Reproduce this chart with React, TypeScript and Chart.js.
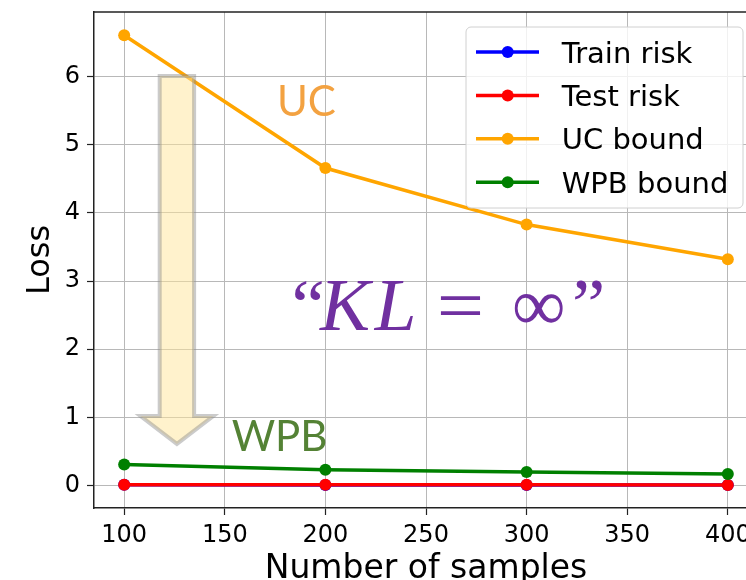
import React, { useEffect, useRef } from "react";
import { Chart, registerables } from "chart.js";
Chart.register(...registerables);

const samples = [100, 200, 300, 400];
const trainRisk = [0.01, 0.009, 0.008, 0.007];
const testRisk = [0.012, 0.01, 0.01, 0.008];
const ucBound = [6.61, 4.66, 3.83, 3.32];
const wpbBound = [0.31, 0.23, 0.2, 0.17];
const xTicks = [100, 150, 200, 250, 300, 350, 400];
const yTicks = [0, 1, 2, 3, 4, 5, 6];
const seriesLabels = ["Train risk", "Test risk", "UC bound", "WPB bound"];
const seriesColors = ["#0000ff", "#ff0000", "#ffa500", "#008000"];

const X_MIN = 85, X_MAX = 415, Y_MIN = -0.33, Y_MAX = 6.95;
const W = 800, H = 580;

const overlay = {
  id: "overlay",
  afterDraw(chart: any) {
    const { ctx, chartArea: ca, scales } = chart;
    const xs = scales.x, ys = scales.y;
    const X = (v: number) => xs.getPixelForValue(v);
    const Y = (v: number) => ys.getPixelForValue(v);
    ctx.save();
    // top border
    ctx.strokeStyle = "#222";
    ctx.lineWidth = 1.5;
    ctx.beginPath();
    ctx.moveTo(ca.left, ca.top);
    ctx.lineTo(ca.right, ca.top);
    ctx.stroke();

    // arrow
    const ax = 126.2, sh = 8.55, hh = 18.1, aTop = 6.01, aBase = 1.02, aTip = 0.61;
    ctx.beginPath();
    ctx.moveTo(X(ax - sh), Y(aTop));
    ctx.lineTo(X(ax + sh), Y(aTop));
    ctx.lineTo(X(ax + sh), Y(aBase));
    ctx.lineTo(X(ax + hh), Y(aBase));
    ctx.lineTo(X(ax), Y(aTip));
    ctx.lineTo(X(ax - hh), Y(aBase));
    ctx.lineTo(X(ax - sh), Y(aBase));
    ctx.closePath();
    ctx.fillStyle = "rgba(255,229,153,0.5)";
    ctx.fill();
    ctx.strokeStyle = "rgba(140,140,140,0.45)";
    ctx.lineWidth = 4;
    ctx.lineJoin = "miter";
    ctx.stroke();

    // UC / WPB labels
    ctx.textAlign = "left";
    ctx.textBaseline = "alphabetic";
    ctx.font = "42px Lato";
    ctx.fillStyle = "#f3a241";
    ctx.fillText("UC", X(175.9), Y(5.43));
    ctx.fillStyle = "#548235";
    ctx.fillText("WPB", X(153.4), Y(0.5));

    // KL = inf
    ctx.fillStyle = "#7030a0";
    const by = Y(2.28);
    ctx.font = "75px 'Liberation Serif'";
    ctx.fillText("\u201C", X(183.2), by);
    ctx.font = "italic 75px 'Liberation Serif'";
    ctx.fillText("K", X(197.3), by);
    ctx.fillText("L", X(224.5), by);
    ctx.font = "75px 'Liberation Serif'";
    ctx.save();
    ctx.translate(X(255.4), by);
    ctx.scale(1.12, 1);
    ctx.fillText("=", 0, 0);
    ctx.restore();
    ctx.fillText("\u221E", X(292.7), by);
    ctx.fillText("\u201D", X(322.5), by);

    // legend
    const bw = 277, bh = 181;
    const bx = ca.right - 15 - bw, bt = ca.top + 15;
    ctx.beginPath();
    (ctx as any).roundRect(bx, bt, bw, bh, 5);
    ctx.fillStyle = "rgba(255,255,255,0.8)";
    ctx.fill();
    ctx.strokeStyle = "#d0d0d0";
    ctx.lineWidth = 1;
    ctx.stroke();
    ctx.font = "29px 'DejaVu Sans'";
    seriesLabels.forEach((lab, i) => {
      const cy = bt + 25 + i * 43.4;
      ctx.strokeStyle = seriesColors[i];
      ctx.lineWidth = 3.5;
      ctx.beginPath();
      ctx.moveTo(bx + 10, cy);
      ctx.lineTo(bx + 73, cy);
      ctx.stroke();
      ctx.fillStyle = seriesColors[i];
      ctx.beginPath();
      ctx.arc(bx + 41.7, cy, 6, 0, Math.PI * 2);
      ctx.fill();
      ctx.fillStyle = "#000";
      ctx.fillText(lab, bx + 95.7, cy + 10.5);
    });

    // axis titles
    ctx.fillStyle = "#000";
    ctx.font = "33px 'DejaVu Sans'";
    ctx.textAlign = "center";
    ctx.fillText("Number of samples", (ca.left + ca.right) / 2, 578);
    ctx.font = "32px 'DejaVu Sans'";
    ctx.save();
    ctx.translate(49, (ca.top + ca.bottom) / 2);
    ctx.rotate(-Math.PI / 2);
    ctx.fillText("Loss", 0, 0);
    ctx.restore();
    ctx.restore();
  },
};

export default function App() {
  const ref = useRef<HTMLCanvasElement>(null);
  useEffect(() => {
    if (!ref.current) return;
    const mk = (vals: number[], i: number) => ({
      label: seriesLabels[i],
      data: samples.map((s, k) => ({ x: s, y: vals[k] })),
      borderColor: seriesColors[i],
      backgroundColor: seriesColors[i],
      borderWidth: 3.5,
      pointRadius: 6,
      pointBorderWidth: 0,
      pointHoverRadius: 6,
      tension: 0,
      order: 4 - i,
    });
    const chart = new Chart(ref.current, {
      type: "line",
      data: {
        datasets: [mk(trainRisk, 0), mk(testRisk, 1), mk(ucBound, 2), mk(wpbBound, 3)],
      },
      options: {
        responsive: false,
        animation: false,
        layout: { padding: { top: 12, right: W - 758, left: 0, bottom: 0 } },
        plugins: { legend: { display: false }, tooltip: { enabled: false }, title: { display: false } },
        scales: {
          x: {
            type: "linear",
            min: X_MIN,
            max: X_MAX,
            afterBuildTicks: (s: any) => { s.ticks = xTicks.map((v) => ({ value: v })); },
            afterFit: (s: any) => { s.height = H - 508; s.paddingLeft = 0; s.paddingRight = 0; },
            grid: { color: "#b8b8b8", lineWidth: 1, tickLength: 7, tickColor: "#222", tickWidth: 1.2 },
            border: { color: "#222", width: 1.5 },
            ticks: { color: "#000", font: { family: "DejaVu Sans", size: 24 }, padding: 6, maxRotation: 0, autoSkip: false },
          },
          y: {
            type: "linear",
            min: Y_MIN,
            max: Y_MAX,
            afterBuildTicks: (s: any) => { s.ticks = yTicks.map((v) => ({ value: v })); },
            afterFit: (s: any) => { s.width = 94; s.paddingTop = 0; s.paddingBottom = 0; },
            grid: { color: "#b8b8b8", lineWidth: 1, tickLength: 7, tickColor: "#222", tickWidth: 1.2 },
            border: { color: "#222", width: 1.5 },
            ticks: { color: "#000", font: { family: "DejaVu Sans", size: 24 }, padding: 7, autoSkip: false },
          },
        },
      },
      plugins: [overlay],
    });
    return () => chart.destroy();
  }, []);
  return (
    <div style={{ position: "fixed", left: 0, top: 0, width: 746, height: 580, overflow: "hidden", background: "#fff" }}>
      <canvas ref={ref} width={W} height={H} style={{ width: W, height: H, display: "block" }} />
    </div>
  );
}
